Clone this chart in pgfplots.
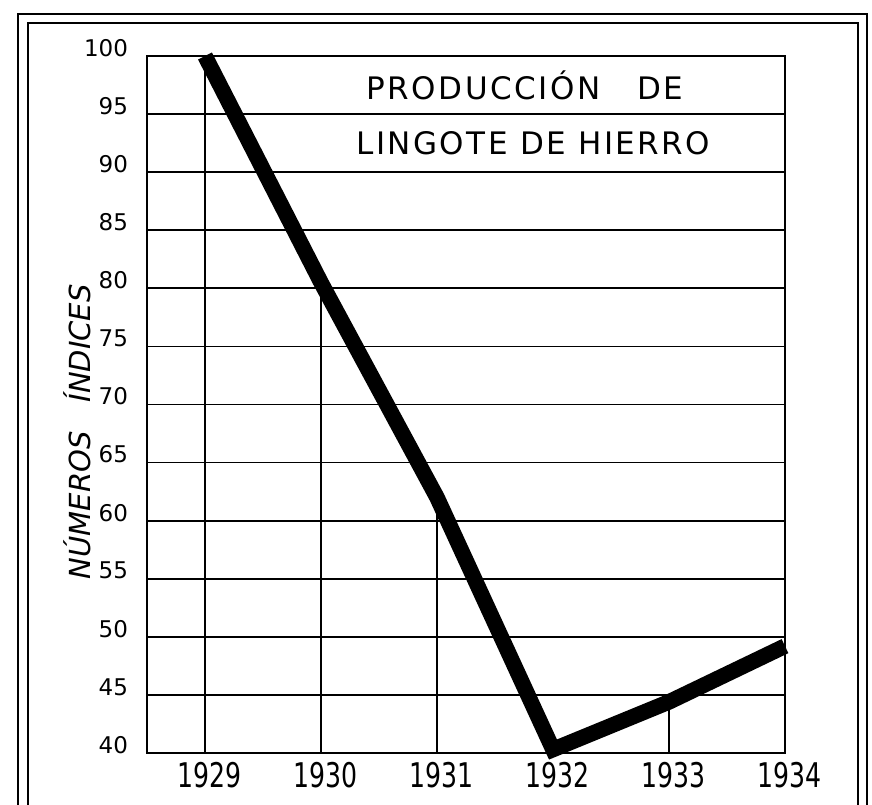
\documentclass[border=0pt]{standalone}
\usepackage{pgfplots}
\pgfplotsset{compat=1.18}
\usepackage{fontspec}
\setmainfont{DejaVu Sans}
\newfontfamily\titlefont{DejaVu Sans}[LetterSpace=8]
\begin{document}
\begin{tikzpicture}[x=1pt,y=1pt]
\clip (0,0) rectangle (436,402);
\path (0,0) rectangle (436,402);
\draw[line width=1.3pt] (9,-10) -- (9,395) -- (433.5,395) -- (433.5,-10);
\draw[line width=1.3pt] (14,-10) -- (14,390.5) -- (429,390.5) -- (429,-10);
\begin{axis}[
  at={(73.5pt,25.5pt)}, anchor=south west, scale only axis,
  width=319pt, height=348.5pt,
  xmin=1928.5, xmax=1934, ymin=40, ymax=100,
  xtick={1929,1930,1931,1932,1933,1934},
  ytick={40,45,...,100},
  xticklabels={\scalebox{0.74}[1]{1929},\scalebox{0.74}[1]{1930},\scalebox{0.74}[1]{1931},\scalebox{0.74}[1]{1932},\scalebox{0.74}[1]{1933},\scalebox{0.74}[1]{1934}},
  major tick length=0pt,
  ymajorgrids, grid style={black, line width=0.9pt},
  axis line style={line width=1.2pt},
  clip=false,
  unbounded coords=jump,
  /pgf/number format/assume math mode=true,
  yticklabel style={font=\fontsize{11.5}{13}\selectfont, xshift=-6pt, yshift=4pt},
  xticklabel style={font=\fontsize{17}{19}\selectfont, xshift=2.5pt, yshift=-1pt},
  ylabel={\itshape NÚMEROS\hspace{1em}ÍNDICES},
  every axis y label/.style={at={(axis description cs:-0.11,0.461)}, rotate=90, anchor=center, font=\fontsize{14.5}{16}\selectfont},
]
\addplot[black, line width=0.8pt, forget plot] coordinates {
  (1929,40) (1929,100)
  (1930,nan) (1930,40) (1930,80.5)
  (1931,nan) (1931,40) (1931,62)
  (1933,nan) (1933,40) (1933,44.4)
};
\addplot[black, line width=7.8pt, line join=miter, miter limit=2, line cap=butt] coordinates {
  (1929,100) (1930,80.5) (1931,62) (1932,40.3) (1933,44.4) (1934,49.2)
};
\node[font=\titlefont\fontsize{15.5}{18}\selectfont] at (axis cs:1931.76,97.5) {PRODUCCIÓN\hspace{1.2em}DE};
\node[font=\titlefont\fontsize{15.5}{18}\selectfont] at (axis cs:1931.83,92.5) {LINGOTE DE HIERRO};
\end{axis}
\end{tikzpicture}
\end{document}
